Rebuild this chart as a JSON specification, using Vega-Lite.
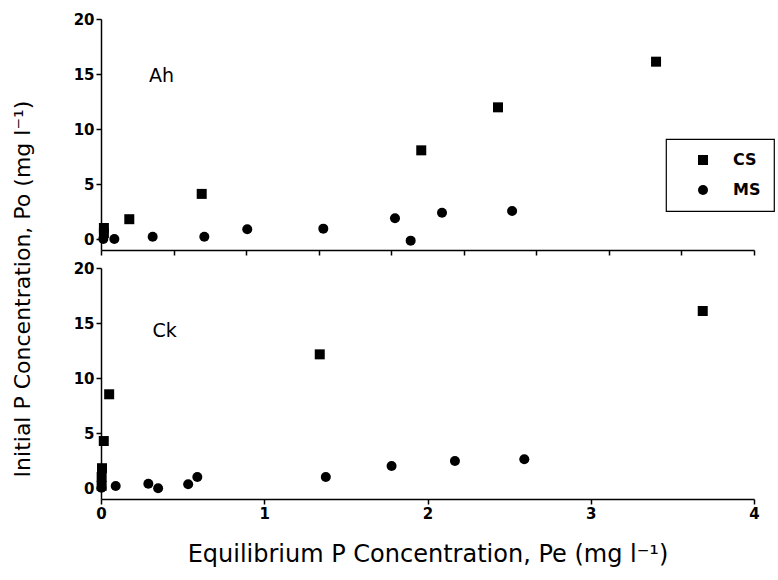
{
  "$schema": "https://vega.github.io/schema/vega-lite/v6.json",
  "background": "white",
  "padding": {"left": 12, "top": 12, "right": 0, "bottom": 5},
  "bounds": "flush",
  "spacing": 18,
  "config": {
    "view": {"stroke": null},
    "font": "DejaVu Sans",
    "axis": {
      "grid": false,
      "domainColor": "black",
      "domainWidth": 1.5,
      "tickColor": "black",
      "tickWidth": 1.5,
      "tickSize": 5,
      "labelFlush": false,
      "labelFont": "DejaVu Sans",
      "labelFontWeight": "bold",
      "labelFontSize": 15,
      "labelColor": "black",
      "labelPadding": 2,
      "titleColor": "black",
      "titleFont": "DejaVu Sans",
      "titleFontWeight": "normal",
      "titleFontSize": 24
    },
    "legend": {
      "strokeColor": "black",
      "strokeWidth": 1.2,
      "padding": 13,
      "symbolOffset": 16,
      "labelOffset": 22,
      "rowPadding": 14,
      "labelFont": "DejaVu Sans",
      "labelFontWeight": "bold",
      "labelFontSize": 16,
      "labelColor": "black",
      "symbolSize": 100,
      "symbolFillColor": "black",
      "symbolStrokeColor": "black",
      "symbolStrokeWidth": 0
    }
  },
  "title": {
    "text": "Initial P Concentration, Po (mg l⁻¹)",
    "orient": "left",
    "anchor": "middle",
    "font": "DejaVu Sans",
    "fontSize": 22,
    "fontWeight": "normal",
    "color": "black",
    "offset": 38
  },
  "datasets": {
    "ah": [
      {"x": 0.02, "y": 1.0, "series": "CS"},
      {"x": 0.02, "y": 0.55, "series": "CS"},
      {"x": 0.195, "y": 1.8, "series": "CS"},
      {"x": 0.694, "y": 4.1, "series": "CS"},
      {"x": 2.207, "y": 8.06, "series": "CS"},
      {"x": 2.736, "y": 11.97, "series": "CS"},
      {"x": 3.825, "y": 16.12, "series": "CS"},
      {"x": 0.016, "y": 0.0, "series": "MS"},
      {"x": 0.092, "y": 0.0, "series": "MS"},
      {"x": 0.356, "y": 0.21, "series": "MS"},
      {"x": 0.712, "y": 0.21, "series": "MS"},
      {"x": 1.008, "y": 0.88, "series": "MS"},
      {"x": 1.532, "y": 0.94, "series": "MS"},
      {"x": 2.026, "y": 1.88, "series": "MS"},
      {"x": 2.134, "y": -0.15, "series": "MS"},
      {"x": 2.35, "y": 2.39, "series": "MS"},
      {"x": 2.833, "y": 2.55, "series": "MS"}
    ],
    "ck": [
      {"x": 0.05, "y": 8.52, "series": "CS"},
      {"x": 0.017, "y": 4.27, "series": "CS"},
      {"x": 0.004, "y": 0.2, "series": "CS"},
      {"x": 0.004, "y": 1.0, "series": "CS"},
      {"x": 0.006, "y": 1.8, "series": "CS"},
      {"x": 1.34, "y": 12.15, "series": "CS"},
      {"x": 3.686, "y": 16.09, "series": "CS"},
      {"x": 0.003, "y": 0.03, "series": "MS"},
      {"x": 0.09, "y": 0.18, "series": "MS"},
      {"x": 0.29, "y": 0.39, "series": "MS"},
      {"x": 0.35, "y": -0.03, "series": "MS"},
      {"x": 0.534, "y": 0.34, "series": "MS"},
      {"x": 0.59, "y": 1.0, "series": "MS"},
      {"x": 1.377, "y": 1.0, "series": "MS"},
      {"x": 1.78, "y": 2.0, "series": "MS"},
      {"x": 2.168, "y": 2.45, "series": "MS"},
      {"x": 2.593, "y": 2.61, "series": "MS"}
    ]
  },
  "resolve": {"scale": {"x": "independent"}},
  "vconcat": [
    {
      "width": 653,
      "height": 231,
      "layer": [
        {
          "data": {"name": "ah"},
          "mark": {"type": "point", "filled": true, "size": 100, "opacity": 1, "color": "black"},
          "encoding": {
            "x": {"field": "x", "type": "quantitative", "scale": {"domain": [0, 4.5], "nice": false, "zero": false},
                  "axis": {"values": [0, 0.5, 1, 1.5, 2, 2.5, 3, 3.5, 4, 4.5], "labels": false, "title": null}},
            "y": {"field": "y", "type": "quantitative", "scale": {"domain": [-1, 20], "nice": false, "zero": false},
                  "axis": {"values": [0, 5, 10, 15, 20], "title": null}},
            "shape": {"field": "series", "type": "nominal",
                      "scale": {"domain": ["CS", "MS"], "range": ["square", "circle"]},
                      "legend": {"title": null, "orient": "none", "legendX": 565, "legendY": 120}}
          }
        },
        {
          "data": {"values": [{"x": 0.33, "y": 14.8, "label": "Ah"}]},
          "mark": {"type": "text", "align": "left", "baseline": "middle", "fontSize": 19, "font": "DejaVu Sans", "color": "black"},
          "encoding": {
            "x": {"field": "x", "type": "quantitative"},
            "y": {"field": "y", "type": "quantitative"},
            "text": {"field": "label"}
          }
        }
      ]
    },
    {
      "width": 653,
      "height": 231,
      "layer": [
        {
          "data": {"name": "ck"},
          "mark": {"type": "point", "filled": true, "size": 100, "opacity": 1, "color": "black"},
          "encoding": {
            "x": {"field": "x", "type": "quantitative", "scale": {"domain": [0, 4], "nice": false, "zero": false},
                  "axis": {"values": [0, 1, 2, 3, 4], "format": "d", "title": "Equilibrium P Concentration, Pe (mg l⁻¹)", "titlePadding": 21}},
            "y": {"field": "y", "type": "quantitative", "scale": {"domain": [-1, 20], "nice": false, "zero": false},
                  "axis": {"values": [0, 5, 10, 15, 20], "title": null}},
            "shape": {"field": "series", "type": "nominal",
                      "scale": {"domain": ["CS", "MS"], "range": ["square", "circle"]},
                      "legend": {"title": null, "orient": "none", "legendX": 565, "legendY": 120}}
          }
        },
        {
          "data": {"values": [{"x": 0.315, "y": 14.25, "label": "Ck"}]},
          "mark": {"type": "text", "align": "left", "baseline": "middle", "fontSize": 19, "font": "DejaVu Sans", "color": "black"},
          "encoding": {
            "x": {"field": "x", "type": "quantitative"},
            "y": {"field": "y", "type": "quantitative"},
            "text": {"field": "label"}
          }
        }
      ]
    }
  ]
}
